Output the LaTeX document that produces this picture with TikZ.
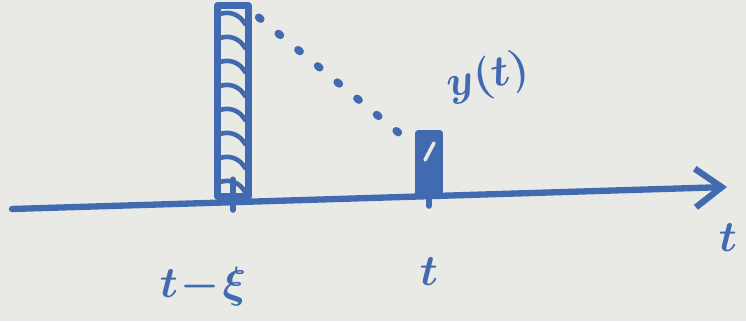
\documentclass[tikz,border=0pt]{standalone}
\usetikzlibrary{arrows.meta, positioning}
\definecolor{ink}{RGB}{66,106,176}
\definecolor{paper}{RGB}{233,233,229}

\begin{document}
\begin{tikzpicture}[
    x=0.02cm, y=-0.02cm,
    pen/.style  ={draw=ink, line width=3.6pt, line cap=round, line join=round},
    bar/.style  ={pen, inner sep=0pt},
    hatch/.style={draw=ink, line width=2.6pt, line cap=round},
    dots/.style ={draw=ink, line width=4.4pt, line cap=round, dash pattern=on 1.5pt off 13pt},
    arr/.style  ={pen, -{Straight Barb[length=15pt, width=22pt, line width=3.6pt]}},
    lbl/.style  ={text=ink, font=\fontsize{30}{30}\selectfont\boldmath, inner sep=1pt}
]

%% ── Paper ────────────────────────────────────────────────────────
\fill[paper] (0,0) rectangle (746,321);
\useasboundingbox (0,0) rectangle (746,321);

%% ── Time axis ────────────────────────────────────────────────────
\coordinate (axl) at (12,209);
\coordinate (axr) at (727,187);
\draw[arr] (axl) -- (axr);
\node[lbl] (tax) at (728,238) {$t$};

%% ── Bars ─────────────────────────────────────────────────────────
\node[bar, minimum width=0.62cm, minimum height=3.82cm] (tall)  at (233,101) {};
\node[bar, fill=ink, minimum width=0.44cm, minimum height=1.18cm] (small) at (429,163) {};

%% hatching in the tall bar
\foreach \y in {14,38,62,86,110,134,158,182}
    \draw[hatch] (220,\y) to[bend left=40] (245,\y+10);
\draw[draw=paper, line width=2pt, line cap=round] (425,160) -- (434,143);

%% ── Ticks ────────────────────────────────────────────────────────
\draw[pen] ([yshift=0.4cm]tall.south)  -- ++(0,30);
\draw[pen] ([yshift=0.3cm]small.south) -- ++(0,25);

%% ── Dotted decay line ────────────────────────────────────────────
\draw[dots] ([xshift=4pt, yshift=-0.3cm]tall.north east) -- ([xshift=-4pt, yshift=-0.2cm]small.north west);

%% ── Labels ───────────────────────────────────────────────────────
\node[lbl, below=1.3cm of tall.south, xshift=-0.6cm] (tlag) {$t\!-\!\xi$};
\node[lbl, below=1.2cm of small.south] (tnow) {$t$};
\node[lbl, rotate=12, font=\fontsize{24}{24}\selectfont\boldmath] (ylbl) at (488,78) {$y(t)$};

\end{tikzpicture}
\end{document}
